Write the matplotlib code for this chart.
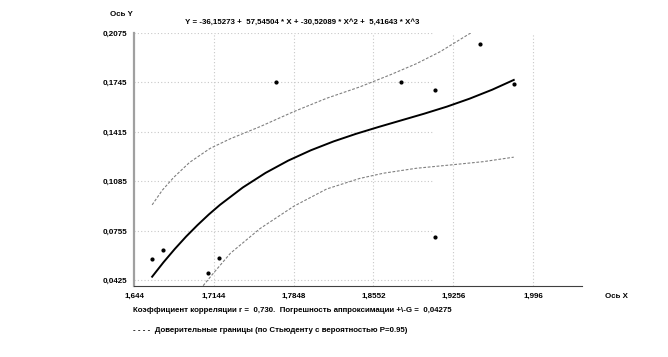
import numpy as np
import matplotlib.pyplot as plt

plt.rcParams['font.family'] = ['Liberation Sans', 'DejaVu Sans']

# experimental points
x_pts = [1.6596, 1.6693, 1.7095, 1.7192, 1.7692, 1.8792, 1.9095, 1.9492, 1.9794, 1.9095]
y_pts = [0.0566, 0.0628, 0.0473, 0.0577, 0.1747, 0.1747, 0.1694, 0.2000, 0.1736, 0.0717]

# regression curve
fit_x = [1.66, 1.67, 1.68, 1.69, 1.70, 1.71, 1.72, 1.74, 1.76, 1.78, 1.80, 1.82, 1.84, 1.86,
         1.88, 1.90, 1.92, 1.94, 1.96, 1.979]
fit_y = [0.0450, 0.0546, 0.0635, 0.0718, 0.0794, 0.0865, 0.0930, 0.1045, 0.1142, 0.1224, 0.1293,
         0.1352, 0.1403, 0.1449, 0.1493, 0.1537, 0.1584, 0.1637, 0.1697, 0.1762]

# confidence limits
upper_x = [1.660, 1.669, 1.679, 1.693, 1.711, 1.729, 1.755, 1.785, 1.814, 1.843, 1.870, 1.893, 1.914, 1.941]
upper_y = [0.0929, 0.1027, 0.1112, 0.1212, 0.1305, 0.1370, 0.1450, 0.1551, 0.1640, 0.1715, 0.1796, 0.1870, 0.1950, 0.2075]
lower_x = [1.705, 1.714, 1.729, 1.755, 1.785, 1.814, 1.843, 1.864, 1.893, 1.923, 1.952, 1.979]
lower_y = [0.0390, 0.0473, 0.0606, 0.0770, 0.0920, 0.1035, 0.1105, 0.1140, 0.1173, 0.1195, 0.1217, 0.1247]

xticks = [1.644, 1.7144, 1.7848, 1.8552, 1.9256, 1.996]
xtick_labels = ['1,644', '1,7144', '1,7848', '1,8552', '1,9256', '1,996']
yticks = [0.0425, 0.0755, 0.1085, 0.1415, 0.1745, 0.2075]
ytick_labels = ['0,0425', '0,0755', '0,1085', '0,1415', '0,1745', '0,2075']

equation = 'Y = -36,15273 +  57,54504 * X + -30,52089 * X^2 +  5,41643 * X^3'
footer1 = 'Коэффициент корреляции r =  0,730.  Погрешность аппроксимации +\\-G =  0,04275'
footer2 = '- - - -  Доверительные границы (по Стьюденту с вероятностью P=0.95)'

fig = plt.figure(figsize=(6.68, 3.57), dpi=100)
ax = fig.add_axes([134 / 668, 1 - 286 / 357, 448 / 668, 253 / 357])
ax.set_xlim(1.644, 2.0392)
ax.set_ylim(0.0388, 0.2075)

# grid: horizontal lines stop short, vertical ones reach the top
grid_kw = dict(color='#c8c8c8', linestyle=(0, (1, 2)), linewidth=0.8, zorder=0)
ax.hlines(yticks, 1.644, 1.907, **grid_kw)
ax.vlines(xticks[1:], 0.0388, 0.2075, **grid_kw)

ax.plot(fit_x, fit_y, color='black', linewidth=1.4, zorder=3)
ax.plot(upper_x, upper_y, color='#808080', linestyle=(0, (2.5, 1.5)), linewidth=0.8, zorder=2)
ax.plot(lower_x, lower_y, color='#808080', linestyle=(0, (2.5, 1.5)), linewidth=0.8, zorder=2)
ax.scatter(x_pts, y_pts, s=4, color='black', zorder=4)

for s in ['top', 'right']:
    ax.spines[s].set_visible(False)
ax.spines['left'].set_color('#a0a0a0')
ax.spines['left'].set_linewidth(1.6)
ax.spines['bottom'].set_color('#404040')
ax.spines['bottom'].set_linewidth(0.8)

ax.set_xticks(xticks)
ax.set_xticklabels(xtick_labels)
ax.set_yticks(yticks)
ax.set_yticklabels(ytick_labels)
ax.tick_params(length=0, labelsize=5.8, pad=5)
for lbl in ax.get_xticklabels() + ax.get_yticklabels():
    lbl.set_fontweight('bold')

fs = 5.7
fig.text(110 / 668, 1 - 14 / 357, 'Ось Y', fontsize=fs, fontweight='bold', va='center')
fig.text(302 / 668, 1 - 22 / 357, equation, fontsize=fs, fontweight='bold', va='center', ha='center')
fig.text(605 / 668, 1 - 296 / 357, 'Ось X', fontsize=fs, fontweight='bold', va='center')
fig.text(133 / 668, 1 - 311 / 357, footer1, fontsize=fs, fontweight='bold', va='center')
fig.text(133 / 668, 1 - 331 / 357, footer2, fontsize=fs, fontweight='bold', va='center')

fig.savefig('out.png', dpi=100)
